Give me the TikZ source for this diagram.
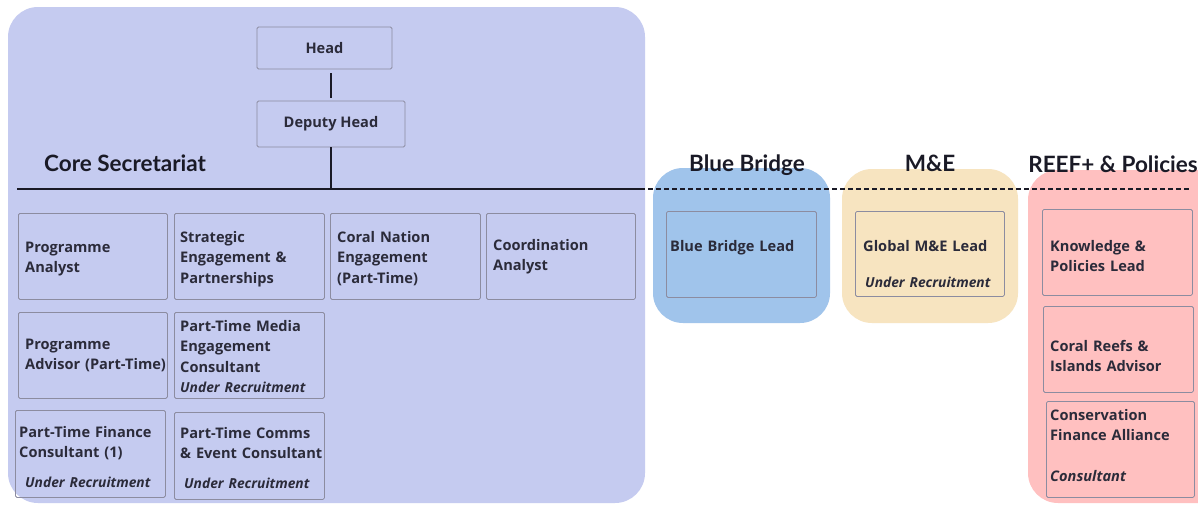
\documentclass[tikz,border=0pt]{standalone}
\usepackage{fontspec}
\setmainfont{Open Sans}
\newfontfamily\headfont{Lato}
\definecolor{corefill}{HTML}{C5CBF0}
\definecolor{bluefill}{HTML}{A0C4EB}
\definecolor{mefill}{HTML}{F7E4C0}
\definecolor{reeffill}{HTML}{FFC0C0}
\definecolor{boxline}{HTML}{8C8CA0}
\definecolor{ink}{HTML}{2B2B3A}
\definecolor{heading}{HTML}{1A1A26}
\newcommand\undrec{{\fontsize{13.8}{20.5}\selectfont\itshape Under Recruitment}}
\begin{document}
\begin{tikzpicture}[x=1pt,y=-1pt,
    post/.style={draw=boxline, line width=0.8pt, rounded corners=1.5pt, anchor=north west, inner sep=0pt},
    role/.style={anchor=base west, inner sep=0pt, text width=150pt, align=left, text=ink,
        font=\bfseries\fontsize{14.6}{20.5}\selectfont},
    unit/.style={rounded corners=30pt},
    grouptitle/.style={anchor=base, inner sep=0pt, text=heading, font=\headfont\bfseries\fontsize{22.5}{24}\selectfont},
    conn/.style={line width=1.6pt, draw=heading}]
    \clip (0,0) rectangle (1198,504);
    \fill[white] (0,0) rectangle (1198,504);
    % team areas
    \fill[corefill, unit] (8,7) rectangle (645,503);
    \fill[bluefill, unit] (653,168) rectangle (830,323);
    \fill[mefill, unit] (842,169) rectangle (1018,323);
    \fill[reeffill, unit] (1028,170) rectangle (1240,503);
    \node[grouptitle, anchor=base west] (core) at (44,171) {Core Secretariat};
    \node[grouptitle] (bb) at (747,171) {Blue Bridge};
    \node[grouptitle] (me) at (930,171) {M\&E};
    \node[grouptitle] (reef) at (1113,172) {REEF+ \& Policies};
    % head and deputy
    \node[post, anchor=center, minimum width=135pt, minimum height=42pt, text=ink,
        font=\bfseries\fontsize{14.6}{18}\selectfont] (head) at (324.5,48) {Head};
    \node[post, anchor=center, minimum width=148pt, minimum height=46pt, text=ink,
        font=\bfseries\fontsize{14.6}{18}\selectfont] (dep) at (331,124) {Deputy Head};
    \coordinate (railL) at (17,189);
    \coordinate (railM) at (640,189);
    \coordinate (railR) at (1190,189);
    \draw[conn, shorten <=4pt, shorten >=3pt] (dep.north |- head.south) -- (dep.north);
    \draw[conn] (dep.south) -- (dep.south |- railL);
    \draw[conn] (railL) -- (railM);
    \draw[heading, line width=1.2pt, dash pattern=on 5pt off 3pt] (railM) -- (railR);
    % core secretariat posts
    \node[post, minimum width=149pt, minimum height=86pt] (ana) at (18,213) {};
    \node[post, minimum width=150pt, minimum height=86pt] (seng) at (174,213) {};
    \node[post, minimum width=150pt, minimum height=86pt] (cne) at (330,213) {};
    \node[post, minimum width=149pt, minimum height=86pt] (coord) at (486,213) {};
    \node[post, minimum width=149pt, minimum height=86pt] (adv) at (18,312) {};
    \node[post, minimum width=150pt, minimum height=86pt] (media) at (174,312) {};
    \node[post, minimum width=150pt, minimum height=87pt] (fin) at (15,410) {};
    \node[post, minimum width=150pt, minimum height=87pt] (comms) at (174,412) {};
    \node[role] (ana-t) at (25,252) {Programme\\Analyst};
    \node[role] (seng-t) at (180,242) {Strategic\\Engagement \&\\Partnerships};
    \node[role] (cne-t) at (337,242) {Coral Nation\\Engagement\\(Part-Time)};
    \node[role] (coord-t) at (493,250) {Coordination\\Analyst};
    \node[role] (adv-t) at (25,349) {Programme\\Advisor (Part-Time)};
    \node[role] (media-t) at (180,331) {Part-Time Media\\Engagement\\Consultant\\\undrec};
    \node[role] (fin-t) at (19,437) {Part-Time Finance\\Consultant (1)\\[9pt]\hspace*{6pt}\undrec};
    \node[role] (comms-t) at (180,438) {Part-Time Comms\\\&~Event Consultant\\[9pt]\hspace*{4pt}\undrec};
    % other teams
    \node[post, minimum width=150pt, minimum height=86pt] (bbl) at (666,211) {};
    \node[post, minimum width=149pt, minimum height=85pt] (mel) at (855,211) {};
    \node[post, minimum width=150pt, minimum height=86pt] (kpl) at (1042,209) {};
    \node[post, minimum width=150pt, minimum height=86pt] (cra) at (1043,306) {};
    \node[post, minimum width=148pt, minimum height=96pt] (cfa) at (1046,401) {};
    \node[role] (bbl-t) at (670,251) {Blue Bridge Lead};
    \node[role] (mel-t) at (863,251) {Global M\&E Lead\\[15.5pt]\hspace*{2pt}\undrec};
    \node[role] (kpl-t) at (1050,251) {Knowledge \&\\Policies Lead};
    \node[role] (cra-t) at (1050,351) {Coral Reefs \&\\Islands Advisor};
    \node[role] (cfa-t) at (1050,420) {Conservation\\Finance Alliance\\[20.5pt]\textit{Consultant}};
\end{tikzpicture}
\end{document}
